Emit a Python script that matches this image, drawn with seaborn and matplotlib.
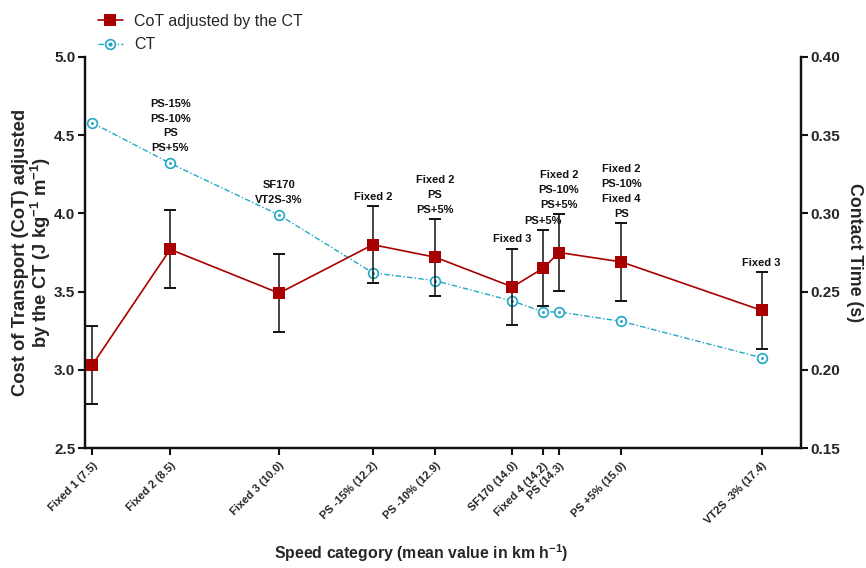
import matplotlib
matplotlib.use("Agg")
import matplotlib.pyplot as plt
from matplotlib.legend_handler import HandlerTuple
from matplotlib.lines import Line2D
import seaborn as sns
import numpy as np
import pandas as pd

# Speed categories (label, mean speed) and their positions along the x axis
categories = ["Fixed 1 (7.5)", "Fixed 2 (8.5)", "Fixed 3 (10.0)", "PS -15% (12.2)",
              "PS -10% (12.9)", "SF170 (14.0)", "Fixed 4 (14.2)", "PS (14.3)",
              "PS +5% (15.0)", "VT2S -3% (17.4)"]
x_pos = [0.10, 1.19, 2.71, 4.02, 4.89, 5.97, 6.40, 6.62, 7.49, 9.45]

# Cost of transport adjusted by contact time (J kg-1 m-1): mean and SD
cot_mean = [3.03, 3.77, 3.49, 3.80, 3.72, 3.53, 3.65, 3.75, 3.69, 3.38]
cot_sd = [0.25, 0.25, 0.25, 0.245, 0.245, 0.245, 0.245, 0.245, 0.25, 0.245]

# Contact time (s)
ct = [0.358, 0.332, 0.299, 0.262, 0.257, 0.244, 0.237, 0.237, 0.231, 0.2077]

# Significant differences against other categories
sig_labels = ["", "PS-15%\nPS-10%\nPS\nPS+5%", "SF170\nVT2S-3%", "Fixed 2",
              "Fixed 2\nPS\nPS+5%", "Fixed 3", "PS+5%", "Fixed 2\nPS-10%\nPS+5%",
              "Fixed 2\nPS-10%\nFixed 4\nPS", "Fixed 3"]

df = pd.DataFrame({"x": x_pos, "cot": cot_mean, "sd": cot_sd, "ct": ct})

sns.set_style("white")
plt.rcParams["font.family"] = ["Liberation Sans", "DejaVu Sans"]
plt.rcParams["mathtext.fontset"] = "custom"
plt.rcParams["mathtext.rm"] = "Liberation Sans:bold"
plt.rcParams["mathtext.it"] = "Liberation Sans:bold"
plt.rcParams["mathtext.bf"] = "Liberation Sans:bold"

RED = "#A80000"
CYAN = "#22A7C6"
DARK = "#111111"
CT_DASH = (0, (4, 1.6, 1, 1.6))

fig = plt.figure(figsize=(8.66, 5.68), dpi=100)
ax = fig.add_axes([85 / 866, 1 - 448 / 568, 716 / 866, 391 / 568])
ax2 = ax.twinx()

# Contact time on the right axis
sns.lineplot(data=df, x="x", y="ct", ax=ax2, color=CYAN, lw=1.0,
             linestyle=CT_DASH, marker="o", markersize=7,
             markerfacecolor="white", markeredgecolor=CYAN, markeredgewidth=1.2,
             zorder=2)
sns.scatterplot(data=df, x="x", y="ct", ax=ax2, color=CYAN, s=4,
                edgecolor=CYAN, zorder=3)

# CoT with SD error bars on the left axis
ax.errorbar(df["x"], df["cot"], yerr=df["sd"], fmt="none", ecolor=DARK,
            elinewidth=1.1, capsize=4.5, capthick=1.4, zorder=3)
sns.lineplot(data=df, x="x", y="cot", ax=ax, color=RED, lw=1.2, marker="s",
             markersize=8, markeredgewidth=0, zorder=4)

ax.set_zorder(ax2.get_zorder() + 1)
ax.patch.set_visible(False)

ax.set_xlim(0, 10)
ax.set_ylim(2.5, 5.0)
ax2.set_ylim(0.15, 0.40)
ax.set_yticks(np.arange(2.5, 5.01, 0.5))
ax2.set_yticks(np.arange(0.15, 0.401, 0.05))
ax.set_xticks(x_pos)
ax.set_xticklabels(categories, rotation=45, ha="right", rotation_mode="anchor",
                   fontsize=8, fontweight="bold")
ax.set_yticklabels([f"{v:.1f}" for v in np.arange(2.5, 5.01, 0.5)],
                   fontsize=11, fontweight="bold")
ax2.set_yticklabels([f"{v:.2f}" for v in np.arange(0.15, 0.401, 0.05)],
                    fontsize=11, fontweight="bold")

for a in (ax, ax2):
    a.spines["top"].set_visible(False)
    for side in ("left", "right", "bottom"):
        a.spines[side].set_linewidth(1.6)
        a.spines[side].set_color(DARK)
    a.tick_params(direction="out", length=5, width=1.5, color=DARK, pad=2)
ax.tick_params(axis="y", left=True, right=False)
ax.tick_params(axis="x", bottom=True, pad=4)
ax2.tick_params(axis="y", right=True, left=False)

ax.set_xlabel("Speed category (mean value in km h$^{-1}$)", fontsize=11.4,
              fontweight="bold")
ax.xaxis.set_label_coords(0.469, -0.24)
ax.set_ylabel("Cost of Transport (CoT) adjusted\nby the CT (J kg$^{-1}$ m$^{-1}$)",
              fontsize=13.2, fontweight="bold", labelpad=1, linespacing=1.0)
ax2.set_ylabel("Contact Time (s)", fontsize=12.8, fontweight="bold",
               rotation=270, labelpad=16)

# Significance labels placed above the higher of the SD bar and the CT marker
fig.canvas.draw()
for xi, m, s, c, lab in zip(x_pos, cot_mean, cot_sd, ct, sig_labels):
    if not lab:
        continue
    top_bar = ax.transData.transform((xi, m + s))[1]
    top_ct = ax2.transData.transform((xi, c))[1] + 6
    y_disp = max(top_bar, top_ct)
    x_disp = ax.transData.transform((xi, 0))[0]
    ax.annotate(lab, xy=(x_disp, y_disp), xycoords="figure pixels",
                xytext=(0, 3), textcoords="offset points", ha="center",
                va="bottom", fontsize=8, fontweight="bold", linespacing=1.6,
                color=DARK, annotation_clip=False)

# Legend above the plot area
h_cot = Line2D([], [], color=RED, lw=1.2, marker="s", markersize=8,
               markeredgewidth=0)
h_ct_ring = Line2D([], [], color=CYAN, lw=1.0, linestyle=CT_DASH,
                   marker="o", markersize=7, markerfacecolor="white",
                   markeredgecolor=CYAN, markeredgewidth=1.2)
h_ct_dot = Line2D([], [], color=CYAN, lw=0, marker="o", markersize=2)
fig.legend([h_cot, (h_ct_ring, h_ct_dot)], ["CoT adjusted by the CT", "CT"],
           handler_map={tuple: HandlerTuple(ndivide=1, pad=0)},
           loc="upper left", bbox_to_anchor=(88 / 866, 1 - 4 / 568),
           frameon=False, fontsize=11.5, handlelength=1.6, handletextpad=0.7,
           labelspacing=0.55, borderaxespad=0.2)

fig.savefig("out.png", dpi=100)
